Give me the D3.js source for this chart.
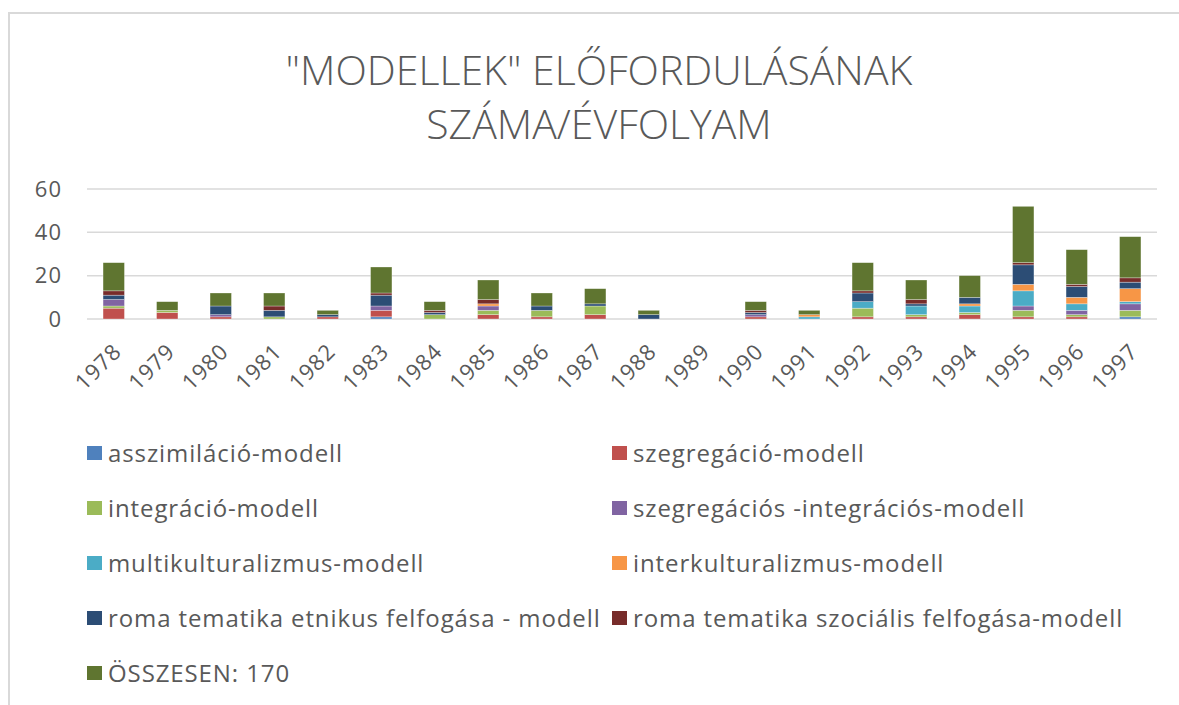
<!DOCTYPE html>
<html>
<head>
<meta charset="utf-8">
<script src="https://cdn.jsdelivr.net/npm/d3@7"></script>
<style>
  body { margin: 0; background: #fff; }
  text { font-family: "Open Sans", "DejaVu Sans", sans-serif; fill: #595959; }
</style>
</head>
<body>
<div id="chart"></div>
<script>

var years = ["1978","1979","1980","1981","1982","1983","1984","1985","1986","1987",
             "1988","1989","1990","1991","1992","1993","1994","1995","1996","1997"];

var seriesNames = [
  "asszimiláció-modell",
  "szegregáció-modell",
  "integráció-modell",
  "szegregációs -integrációs-modell",
  "multikulturalizmus-modell",
  "interkulturalizmus-modell",
  "roma tematika etnikus felfogása - modell",
  "roma tematika szociális felfogása-modell",
  "ÖSSZESEN: 170"
];

var colors = ["#4F81BD","#C0504D","#9BBB59","#8064A2","#4BACC6","#F79646","#2C4D75","#772C2A","#5F7530"];

// values per year, 1978..1997
var asszimilacio   = [0,0,0,0,0,1,0,0,0,0,0,0,0,0,0,0,0,0,0,1];
var szegregacio    = [5,3,1,0,1,3,0,2,1,2,0,0,1,0,1,1,2,1,1,0];
var integracio     = [1,1,0,1,0,0,2,2,3,4,0,0,0,0,4,1,1,3,1,3];
var szegIntegr     = [3,0,1,0,0,2,0,2,0,0,0,0,1,0,0,0,0,2,2,3];
var multikult      = [0,0,0,0,0,0,0,0,0,0,0,0,0,1,3,4,3,7,3,1];
var interkult      = [0,0,0,0,0,0,0,1,0,0,0,0,0,1,0,0,1,3,3,6];
var romaEtnikus    = [2,0,4,3,1,5,1,0,2,1,2,0,1,0,4,1,3,9,5,3];
var romaSzocialis  = [2,0,0,2,0,1,1,2,0,0,0,0,1,0,1,2,0,1,1,2];
var osszesen       = [13,4,6,6,2,12,4,9,6,7,2,0,4,2,13,9,10,26,16,19];

var yTicks = [0, 20, 40, 60];

var allSeries = [asszimilacio, szegregacio, integracio, szegIntegr, multikult,
                 interkult, romaEtnikus, romaSzocialis, osszesen];

var table = years.map(function(y, i) {
  var row = {year: y};
  seriesNames.forEach(function(n, k) { row[n] = allSeries[k][i]; });
  return row;
});

var W = 1179, H = 705;
var margin = {top: 189, left: 87, right: 22, bottom: 386};
var width = W - margin.left - margin.right,
    height = H - margin.top - margin.bottom;

var svg = d3.select("#chart").append("svg")
    .attr("width", W)
    .attr("height", H);

// outer chart frame
svg.append("rect")
    .attr("x", 9).attr("y", 13)
    .attr("width", W + 20).attr("height", H + 20)
    .attr("fill", "none")
    .attr("stroke", "#d9d9d9")
    .attr("stroke-width", 2);

// title
var title = svg.append("text")
    .attr("text-anchor", "middle")
    .style("font-size", "41px")
    .style("font-weight", 300);
title.append("tspan").attr("x", 599).attr("y", 85).text('"MODELLEK" ELŐFORDULÁSÁNAK');
title.append("tspan").attr("x", 599).attr("y", 139).text("SZÁMA/ÉVFOLYAM");

var g = svg.append("g")
    .attr("transform", "translate(" + margin.left + "," + margin.top + ")");

var x = d3.scaleBand()
    .domain(years)
    .range([0, width])
    .paddingInner(0.6)
    .paddingOuter(0.3);

var y = d3.scaleLinear()
    .domain([0, 60])
    .range([height, 0]);

// gridlines
g.selectAll(".grid")
    .data(yTicks)
  .enter().append("line")
    .attr("x1", 0).attr("x2", width)
    .attr("y1", function(d) { return y(d); })
    .attr("y2", function(d) { return y(d); })
    .attr("stroke", "#d9d9d9")
    .attr("stroke-width", 1.5);

// y axis labels
var yAxis = g.append("g")
    .call(d3.axisLeft(y).tickValues(yTicks).tickSize(0).tickPadding(25));
yAxis.select(".domain").remove();
yAxis.selectAll("text")
    .style("font-size", "22px")
    .style("font-family", "Open Sans")
    .style("letter-spacing", "1px")
    .attr("fill", "#595959");

// stacked bars
var stack = d3.stack().keys(seriesNames);
var layers = stack(table);

g.selectAll(".layer")
    .data(layers)
  .enter().append("g")
    .attr("fill", function(d, i) { return colors[i]; })
  .selectAll("rect")
    .data(function(d) { return d; })
  .enter().append("rect")
    .attr("x", function(d) { return x(d.data.year); })
    .attr("width", x.bandwidth())
    .attr("y", function(d) { return y(d[1]); })
    .attr("height", function(d) { return y(d[0]) - y(d[1]); })
    .attr("stroke", "#ffffff")
    .attr("stroke-opacity", 0.5)
    .attr("stroke-width", 0.6);

// x axis labels, rotated
var xAxis = g.append("g")
    .attr("transform", "translate(0," + height + ")")
    .call(d3.axisBottom(x).tickSize(0).tickPadding(0));
xAxis.select(".domain").remove();
xAxis.selectAll("text")
    .style("font-size", "22px")
    .style("font-family", "Open Sans")
    .style("letter-spacing", "1px")
    .attr("fill", "#595959")
    .attr("text-anchor", "end")
    .attr("dy", 0)
    .attr("y", 0)
    .attr("transform", "translate(9,34) rotate(-45)");

// legend, two columns
var legend = svg.append("g");
var item = legend.selectAll(".item")
    .data(seriesNames)
  .enter().append("g")
    .attr("transform", function(d, i) {
      var col = i % 2, row = Math.floor(i / 2);
      return "translate(" + (col === 0 ? 87 : 612) + "," + (453 + row * 55) + ")";
    });

item.append("rect")
    .attr("x", 0).attr("y", -7)
    .attr("width", 15).attr("height", 14)
    .attr("fill", function(d, i) { return colors[i]; });

item.append("text")
    .attr("x", 21)
    .attr("dy", "0.36em")
    .style("font-size", "24px")
    .style("letter-spacing", "0.9px")
    .text(function(d) { return d; });

</script>
</body>
</html>
